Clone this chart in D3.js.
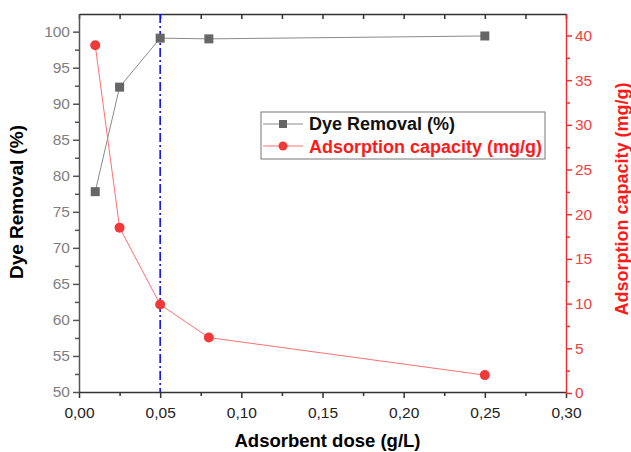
<!DOCTYPE html>
<html>
<head>
<meta charset="utf-8">
<script src="https://cdn.jsdelivr.net/npm/d3@7"></script>
<style>
  body { margin: 0; background: #fff; }
  svg text { font-family: "Liberation Sans", Arial, sans-serif; }
</style>
</head>
<body>
<div id="chart"></div>
<script>
// data
var doses = [0.01, 0.025, 0.05, 0.08, 0.25];
var removal = [77.8, 92.3, 99.1, 99.0, 99.4];
var capacity = [38.9, 18.5, 9.9, 6.2, 2.0];
var xTicks = [0, 0.05, 0.10, 0.15, 0.20, 0.25, 0.30];
var leftTicks = [50, 55, 60, 65, 70, 75, 80, 85, 90, 95, 100];
var rightTicks = [0, 5, 10, 15, 20, 25, 30, 35, 40];
var optimumDose = 0.05;

var W = 631, H = 452;
var margin = {top: 14, right: 65, bottom: 60, left: 79},
    width = 566 - margin.left,
    height = 392 - margin.top;

var svg = d3.select("#chart").append("svg")
  .attr("width", W).attr("height", H)
  .append("g")
  .attr("transform", "translate(" + margin.left + "," + margin.top + ")");

var x = d3.scaleLinear().domain([0, 0.30]).range([0, width]);
var yL = d3.scaleLinear().domain([50, 102.45]).range([height, 0]);
var yR = d3.scaleLinear().domain([0, 42.4]).range([height + 1, 0]);

var fmt = function(d) { return d3.format(".2f")(d).replace(".", ","); };

// minor ticks halfway between majors
function minor(arr) {
  var out = [];
  for (var i = 0; i < arr.length - 1; i++) out.push((arr[i] + arr[i + 1]) / 2);
  return out;
}

// bottom axis
var gx = svg.append("g").attr("transform", "translate(0," + height + ")");
gx.call(d3.axisBottom(x).tickValues(xTicks).tickFormat(fmt).tickSize(6).tickSizeOuter(0));
gx.append("g").call(d3.axisBottom(x).tickValues(minor(xTicks)).tickFormat("").tickSize(4).tickSizeOuter(0))
  .select(".domain").remove();
gx.selectAll("path, line").attr("stroke", "#333").attr("stroke-width", 1.5);
gx.selectAll("text").attr("fill", "#222").style("font-size", "15.5px").attr("dy", "1.1em");

// top frame, ticks pointing in
var gt = svg.append("g");
gt.call(d3.axisBottom(x).tickValues(xTicks.concat(minor(xTicks))).tickFormat("").tickSize(5).tickSizeOuter(0));
gt.selectAll("path, line").attr("stroke", "#333").attr("stroke-width", 1.5);

// left axis
var gl = svg.append("g");
gl.call(d3.axisLeft(yL).tickValues(leftTicks).tickSize(6).tickSizeOuter(0));
gl.append("g").call(d3.axisLeft(yL).tickValues(minor(leftTicks)).tickFormat("").tickSize(4).tickSizeOuter(0))
  .select(".domain").remove();
gl.selectAll("path, line").attr("stroke", "#555").attr("stroke-width", 1.5);
gl.selectAll("text").attr("fill", "#808080").style("font-size", "15.5px");

// right axis
var gr = svg.append("g").attr("transform", "translate(" + width + ",0)");
gr.call(d3.axisRight(yR).tickValues(rightTicks).tickSize(6).tickSizeOuter(0));
gr.append("g").call(d3.axisRight(yR).tickValues(minor(rightTicks)).tickFormat("").tickSize(4).tickSizeOuter(0))
  .select(".domain").remove();
gr.selectAll("path, line").attr("stroke", "#f03030").attr("stroke-width", 1.5);
gr.selectAll("text").attr("fill", "#f04040").style("font-size", "15.5px");

// optimum dose line
svg.append("line")
  .attr("x1", x(optimumDose)).attr("x2", x(optimumDose))
  .attr("y1", 0).attr("y2", height)
  .attr("stroke", "#1010ff").attr("stroke-width", 1.6)
  .attr("stroke-dasharray", "9,3,2,3");

// series
var removalPts = doses.map(function(d, i) { return [d, removal[i]]; });
var capacityPts = doses.map(function(d, i) { return [d, capacity[i]]; });

svg.append("path").datum(removalPts)
  .attr("fill", "none").attr("stroke", "#8a8a8a").attr("stroke-width", 1)
  .attr("d", d3.line().x(function(d) { return x(d[0]); }).y(function(d) { return yL(d[1]); }));
svg.append("path").datum(capacityPts)
  .attr("fill", "none").attr("stroke", "#ff7070").attr("stroke-width", 1)
  .attr("d", d3.line().x(function(d) { return x(d[0]); }).y(function(d) { return yR(d[1]); }));

svg.selectAll(".sq").data(removalPts).enter().append("rect")
  .attr("x", function(d) { return x(d[0]) - 4.5; })
  .attr("y", function(d) { return yL(d[1]) - 4.5; })
  .attr("width", 9).attr("height", 9)
  .attr("fill", "#666");
svg.selectAll(".dot").data(capacityPts).enter().append("circle")
  .attr("cx", function(d) { return x(d[0]); })
  .attr("cy", function(d) { return yR(d[1]); })
  .attr("r", 5)
  .attr("fill", "#f03a3a");

// axis titles
svg.append("text")
  .attr("transform", "translate(" + (-56) + "," + (height / 2 - 1) + ") rotate(-90)")
  .attr("text-anchor", "middle")
  .style("font-size", "19px").style("font-weight", "bold")
  .text("Dye Removal (%)");
svg.append("text")
  .attr("transform", "translate(" + (width + 62) + "," + (height / 2 - 4) + ") rotate(-90)")
  .attr("text-anchor", "middle").attr("fill", "#ff1a1a")
  .style("font-size", "18px").style("font-weight", "bold")
  .text("Adsorption capacity (mg/g)");
svg.append("text")
  .attr("x", width / 2 + 5).attr("y", height + 55)
  .attr("text-anchor", "middle")
  .style("font-size", "18.5px").style("font-weight", "bold")
  .text("Adsorbent dose (g/L)");

// legend
var lg = svg.append("g").attr("transform", "translate(" + (261 - margin.left) + "," + (112 - margin.top) + ")");
lg.append("rect").attr("width", 284).attr("height", 47)
  .attr("fill", "#fff").attr("stroke", "#777").attr("stroke-width", 1);
lg.append("line").attr("x1", 2).attr("x2", 42).attr("y1", 12).attr("y2", 12).attr("stroke", "#8a8a8a");
lg.append("rect").attr("x", 18).attr("y", 8).attr("width", 8).attr("height", 8).attr("fill", "#666");
lg.append("line").attr("x1", 2).attr("x2", 42).attr("y1", 34).attr("y2", 34).attr("stroke", "#ff7070");
lg.append("circle").attr("cx", 22).attr("cy", 34).attr("r", 4.5).attr("fill", "#f03a3a");
lg.append("text").attr("x", 48).attr("y", 18)
  .style("font-size", "18px").style("font-weight", "bold").attr("fill", "#111")
  .text("Dye Removal (%)");
lg.append("text").attr("x", 48).attr("y", 41)
  .style("font-size", "18px").style("font-weight", "bold").attr("fill", "#ff1a1a")
  .text("Adsorption capacity (mg/g)");
</script>
</body>
</html>
